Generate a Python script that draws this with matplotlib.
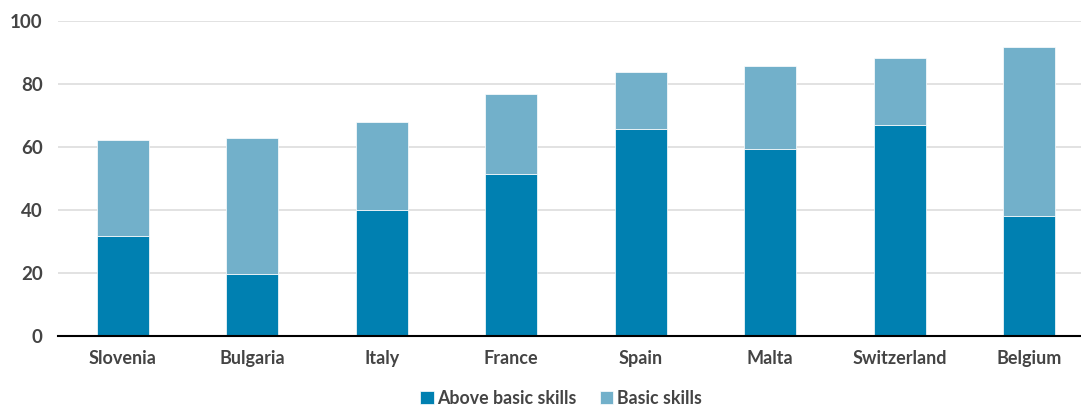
import matplotlib
matplotlib.use("Agg")
import matplotlib.pyplot as plt
import numpy as np

countries = ["Slovenia", "Bulgaria", "Italy", "France", "Spain", "Malta", "Switzerland", "Belgium"]
above_basic = [31.8, 19.7, 40.0, 51.5, 65.8, 59.4, 67.1, 38.1]
total = [62.2, 63.0, 67.8, 76.7, 83.9, 85.7, 88.2, 91.6]
basic = [t - a for t, a in zip(total, above_basic)]
yticks = [0, 20, 40, 60, 80, 100]

c_dark = "#0080B1"
c_light = "#72B0CA"
txt = "#444444"

plt.rcParams['font.family'] = ['Lato', 'DejaVu Sans']
plt.rcParams['font.weight'] = 'bold'

fig = plt.figure(figsize=(10.81, 4.07), dpi=100)
ax = fig.add_axes([58/1081, 1-336/407, 1-58/1081, (336-21)/407])
x = np.arange(len(countries))
w = 0.40
ax.bar(x, above_basic, w, color=c_dark, edgecolor="white", linewidth=0.5, label="Above basic skills", zorder=3)
ax.bar(x, basic, w, bottom=above_basic, color=c_light, edgecolor="white", linewidth=0.5, label="Basic skills", zorder=3)

ax.set_ylim(0, 100)
ax.set_xlim(-0.5, 7.4)
ax.set_yticks(yticks)
ax.set_yticklabels([str(v) for v in yticks], fontsize=13.5, color=txt, fontweight='bold')
ax.set_xticks(x)
ax.set_xticklabels(countries, fontsize=13, color=txt, fontweight='bold')
ax.tick_params(axis='both', length=0)
ax.tick_params(axis='y', pad=11)
ax.tick_params(axis='x', pad=10)
ax.grid(axis='y', color="#dddddd", linewidth=1.2, zorder=0)
for s in ["top", "right", "left"]:
    ax.spines[s].set_visible(False)
ax.spines["bottom"].set_color("black")
ax.spines["bottom"].set_linewidth(1.5)
ax.spines["bottom"].set_zorder(4)

leg = fig.legend(loc="center", bbox_to_anchor=(561/1081, 1-398/407), ncol=2, frameon=False,
                 fontsize=12.8, handlelength=0.75, handleheight=0.75, handletextpad=0.2, columnspacing=1.3)
for t in leg.get_texts():
    t.set_color(txt)
    t.set_fontweight('bold')

fig.savefig("out.png", dpi=100)
